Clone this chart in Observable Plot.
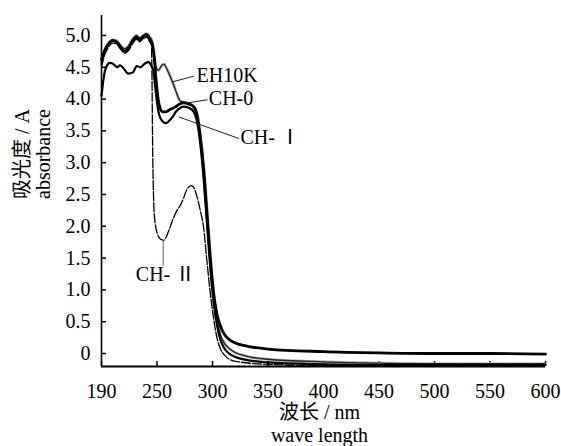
<!DOCTYPE html>
<html>
<head>
<meta charset="utf-8">
<script src="https://cdn.jsdelivr.net/npm/d3@7"></script>
<script src="https://cdn.jsdelivr.net/npm/@observablehq/plot@0.6"></script>
<style>
  html, body { margin: 0; padding: 0; background: #fff; }
  #chart svg { display: block; }
  #chart svg text { font-family: 'Liberation Serif', 'Times New Roman', 'Noto Sans CJK SC', serif; }
</style>
</head>
<body>
<div id="chart"></div>
<script>
// ---- tick labels ----
const xTicks = [190, 250, 300, 350, 400, 450, 500, 550, 600];
const yTicks = [0, 0.5, 1, 1.5, 2, 2.5, 3, 3.5, 4, 4.5, 5];

// ---- series (wavelength nm, absorbance A) ----
const ch0Nm = [190,193,197,202,206,211,215,219,224,228,231,235,239,242,245,247,249,251,253,255,258,262,266,270,274,279,283,286,289,292,295,298,301,304,307,310,315,320,330,350,400,450,500,550,600];
const ch0A  = [4.62,4.75,4.86,4.92,4.90,4.80,4.75,4.80,4.92,4.97,4.93,4.98,5.00,4.94,4.85,4.65,4.30,4.00,3.85,3.80,3.80,3.84,3.87,3.92,3.94,3.92,3.88,3.75,3.40,2.90,2.20,1.50,0.95,0.62,0.44,0.32,0.22,0.17,0.12,0.07,0.03,0.01,0.00,0.00,-0.01];

const ehNm = [190,193,197,202,206,211,215,219,224,228,231,235,239,242,245,247,249,251,254,256,259,262,265,268,271,275,279,283,286,289,292,295,298,301,304,307,310,315,320,330,350,400,450,500,600];
const ehA  = [4.55,4.72,4.84,4.93,4.92,4.84,4.79,4.83,4.95,5.00,4.96,5.00,5.03,4.98,4.90,4.70,4.50,4.45,4.52,4.55,4.47,4.35,4.22,4.08,3.97,3.95,3.93,3.88,3.78,3.45,2.95,2.30,1.55,0.95,0.55,0.30,0.18,0.08,0.02,-0.04,-0.09,-0.13,-0.15,-0.16,-0.16];

const ch1Nm = [190,192,195,199,203,207,210,214,219,224,228,232,237,241,244,246,248,250,252,255,258,261,264,267,270,274,279,283,286,289,292,295,298,301,304,307,310,315,320,330,350,400,450,600];
const ch1A  = [4.05,4.30,4.50,4.57,4.55,4.50,4.53,4.48,4.40,4.42,4.52,4.50,4.56,4.58,4.52,4.45,4.20,3.95,3.75,3.65,3.62,3.66,3.72,3.80,3.85,3.88,3.86,3.80,3.65,3.30,2.75,2.05,1.35,0.80,0.45,0.22,0.10,0.00,-0.05,-0.10,-0.14,-0.17,-0.18,-0.18];

const ch2Nm = [190,193,197,202,206,211,215,219,224,228,231,235,239,242,244,245.5,247,250,253,256,258,261,265,268,271,274,277,281,284,287,289,292,295,298,301,304,307,311,320,350,400,600];
const ch2A  = [4.50,4.68,4.80,4.88,4.87,4.78,4.72,4.76,4.88,4.94,4.90,4.95,4.97,4.90,4.85,3.00,2.20,1.90,1.80,1.78,1.82,1.95,2.14,2.25,2.33,2.45,2.58,2.64,2.58,2.40,2.25,1.98,1.45,0.95,0.55,0.25,0.08,-0.03,-0.12,-0.17,-0.19,-0.19];

// ---- annotation labels ----
const labelNames = ["EH10K", "CH-0", "CH- \u2160", "CH- \u2161"];
const labelNm    = [285.6, 296.7, 325.2, 257.7];
const labelA     = [4.37, 4.00, 3.40, 1.24];
const leaderNm1  = [263.7, 274.1, 269.6, 255.6];
const leaderA1   = [4.27, 3.93, 3.72, 1.78];
const leaderNm2  = [283.2, 295.5, 323.7, 255.6];
const leaderA2   = [4.36, 3.99, 3.38, 1.38];

const toRows = (nm, a) => nm.map((x, i) => ({nm: x, A: a[i]}));
const ch0 = toRows(ch0Nm, ch0A);
const eh = toRows(ehNm, ehA);
const ch1 = toRows(ch1Nm, ch1A);
const ch2 = toRows(ch2Nm, ch2A);
const labels = labelNames.map((t, i) => ({t, i, nm: labelNm[i], A: labelA[i],
  x1: leaderNm1[i], y1: leaderA1[i], x2: leaderNm2[i], y2: leaderA2[i]}));
const sideLabels = labels.filter(d => d.i < 3);
const belowLabels = labels.filter(d => d.i === 3);

const yMin = -0.204, yMax = 5.314;
const font = "'Liberation Serif', 'Times New Roman', 'Noto Sans CJK SC', serif";

const chart = Plot.plot({
  width: 561,
  height: 446,
  marginLeft: 101,
  marginRight: 16,
  marginTop: 15,
  marginBottom: 80,
  style: {fontFamily: font, fontSize: "20px", color: "#000", background: "#fff"},
  x: {type: "linear", domain: [190, 250, 600], range: [101, 156.5, 545]},
  y: {domain: [yMin, yMax]},
  marks: [
    Plot.axisX({ticks: xTicks, tickSize: -5, tickPadding: 22, tickFormat: d => String(d), label: null, fontSize: 20, fontFamily: font, strokeWidth: 1.5}),
    Plot.axisY({ticks: yTicks, tickSize: -5, tickPadding: 16, tickFormat: d => d === 0 ? "0" : d.toFixed(1), label: null, fontSize: 20, fontFamily: font, strokeWidth: 1.5}),
    // EH10K: gray speckled halo + dark line
    Plot.line(eh, {x: "nm", y: "A", stroke: "#b0b0b0", strokeWidth: 3, strokeDasharray: "1 2", curve: "monotone-x"}),
    Plot.line(eh, {x: "nm", y: "A", stroke: "#222", strokeWidth: 1.3, curve: "monotone-x"}),
    Plot.line(ch1, {x: "nm", y: "A", stroke: "#000", strokeWidth: 2.2, curve: "monotone-x"}),
    Plot.line(ch0, {x: "nm", y: "A", stroke: "#000", strokeWidth: 2.8, curve: "monotone-x"}),
    Plot.line(ch2, {x: "nm", y: "A", stroke: "#000", strokeWidth: 1.3, strokeDasharray: "9 2", curve: "monotone-x"}),
    // leader lines
    Plot.link(sideLabels, {x1: "x1", y1: "y1", x2: "x2", y2: "y2", stroke: "#222", strokeWidth: 1}),
    Plot.link(belowLabels, {x1: "x1", y1: "y1", x2: "x2", y2: "y2", stroke: "#777", strokeWidth: 1.2}),
    // labels
    Plot.text(sideLabels, {x: "nm", y: "A", text: "t", textAnchor: "start", fontSize: 20, fontFamily: font, fill: "#000"}),
    Plot.text(belowLabels, {x: "nm", y: "A", text: "t", textAnchor: "middle", fontSize: 20, fontFamily: font, fill: "#000"}),
    // axis lines
    Plot.ruleX([190], {stroke: "#000", strokeWidth: 1.6}),
    Plot.ruleY([yMin], {stroke: "#000", strokeWidth: 2}),
    // axis titles
    Plot.text(["吸光度 / A\nabsorbance"], {frameAnchor: "left", rotate: -90, dx: -69, dy: 8, fontSize: 20, fontFamily: font, lineHeight: 1.05, fill: "#000"}),
    Plot.text(["波长 / nm\nwave length"], {frameAnchor: "bottom", lineAnchor: "top", dx: -4, dy: 36, fontSize: 20, fontFamily: font, lineHeight: 1.15, fill: "#000"})
  ]
});
document.getElementById("chart").appendChild(chart);
</script>
</body>
</html>
